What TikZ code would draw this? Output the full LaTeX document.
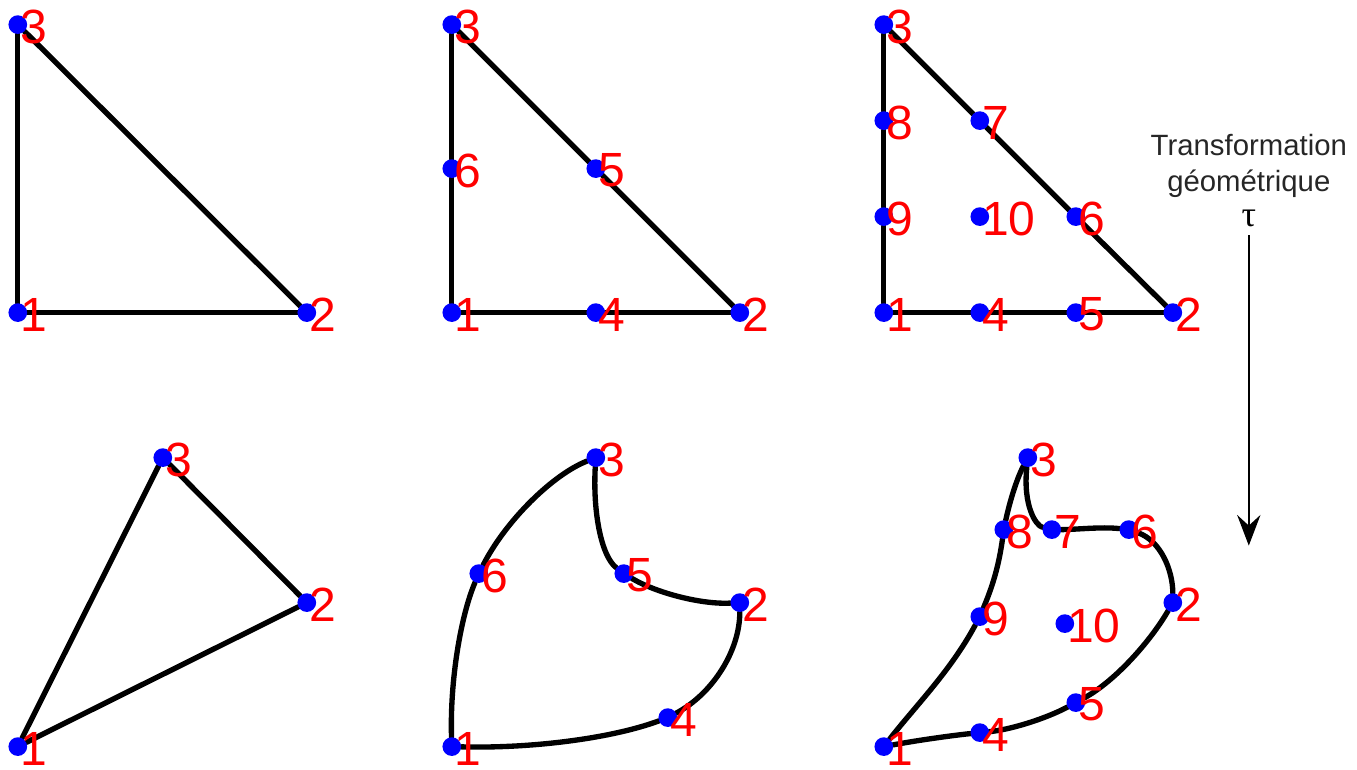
\documentclass[tikz,border=0pt]{standalone}
\usepackage{fontspec}
\setmainfont{Liberation Sans}
\newfontfamily\taufont{Liberation Serif}
\usetikzlibrary{positioning, arrows.meta, backgrounds}

\begin{document}
\begin{tikzpicture}[
    x=0.75pt, y=-0.75pt,
    pt/.style={circle, fill=blue, inner sep=0pt, minimum size=14pt},
    num/.style={anchor=west, inner sep=0pt, text=red, font=\fontsize{36}{38}\selectfont},
    edge/.style={line width=4pt, line cap=round},
    caption/.style={align=center, inner sep=0pt, text=black!85, font=\fontsize{22}{27}\selectfont},
    flow/.style={-{Stealth[length=23pt, width=17.5pt, inset=8pt]}, line width=1.2pt},
]
\useasboundingbox (-0.8,-0.6) rectangle (1356.2,768.4);

% reference elements, top row
\foreach \n/\x/\y/\t in {
    ta1/17/312/1, ta2/306/312/2, ta3/17/24/3,
    tb1/451/312/1, tb2/739/312/2, tb3/451/24/3, tb4/595/312/4, tb5/595/168/5, tb6/451/168/6,
    tc1/883/312/1, tc2/1172/312/2, tc3/883/24/3, tc4/979/312/4, tc5/1075/312/5,
    tc6/1075/216/6, tc7/979/120/7, tc8/883/120/8, tc9/883/216/9, tc10/979/216/10,
% transformed elements, bottom row
    ba1/17/746/1, ba2/306/602/2, ba3/162/457/3,
    bb1/451/746/1, bb2/739/602/2, bb3/595/457/3, bb4/667/717/4, bb5/623/573/5, bb6/478/573/6,
    bc1/883/746/1, bc2/1172/602/2, bc3/1027/457/3, bc4/979/732/4, bc5/1075/702/5,
    bc6/1128/529/6, bc7/1051/529/7, bc8/1003/529/8, bc9/979/616/9, bc10/1064/623/10}
{
    \node[pt] (\n) at (\x,\y) {};
    \node[num] (\n t) at ([xshift=1.5pt, yshift=-1.5pt]\n.center) {\t};
}

\begin{scope}[on background layer]
\foreach \a/\b in {ta1/ta2, ta2/ta3, ta3/ta1,
    tb1/tb4, tb4/tb2, tb2/tb5, tb5/tb3, tb3/tb6, tb6/tb1,
    tc1/tc4, tc4/tc5, tc5/tc2, tc2/tc6, tc6/tc7, tc7/tc3, tc3/tc8, tc8/tc9, tc9/tc1,
    ba1/ba2, ba2/ba3, ba3/ba1}
    \draw[edge] (\a) -- (\b);

\draw[edge] (bb1) .. controls (530,748) and (610,738) .. (bb4);
\draw[edge] (bb4) .. controls (712,693) and (739,650) .. (bb2);
\draw[edge] (bb2) .. controls (700,604) and (655,592) .. (bb5);
\draw[edge] (bb5) .. controls (600,555) and (592,510) .. (bb3);
\draw[edge] (bb3) .. controls (552,474) and (505,520) .. (bb6);
\draw[edge] (bb6) .. controls (460,615) and (449,680) .. (bb1);

\draw[edge] (bc1) .. controls (915,740) and (950,735) .. (bc4);
\draw[edge] (bc4) .. controls (1010,729) and (1045,718) .. (bc5);
\draw[edge] (bc5) .. controls (1115,680) and (1150,640) .. (bc2);
\draw[edge] (bc2) .. controls (1172,570) and (1160,540) .. (bc6);
\draw[edge] (bc6) .. controls (1100,526) and (1075,529) .. (bc7);
\draw[edge] (bc7) .. controls (1035,525) and (1022,505) .. (bc3);
\draw[edge] (bc3) .. controls (1015,480) and (1008,505) .. (bc8);
\draw[edge] (bc8) .. controls (998,565) and (992,585) .. (bc9);
\draw[edge] (bc9) .. controls (950,670) and (915,705) .. (bc1);
\end{scope}

\node[caption] (trans) at (1248,165) {Transformation\\géométrique};
\node[inner sep=0pt, font=\taufont\fontsize{27}{28}\selectfont] (tau) at (1248,218) {τ};
\coordinate (arrowend) at (1248,545);
\draw[flow, shorten <=6pt] (tau) -- (arrowend);

\end{tikzpicture}
\end{document}
